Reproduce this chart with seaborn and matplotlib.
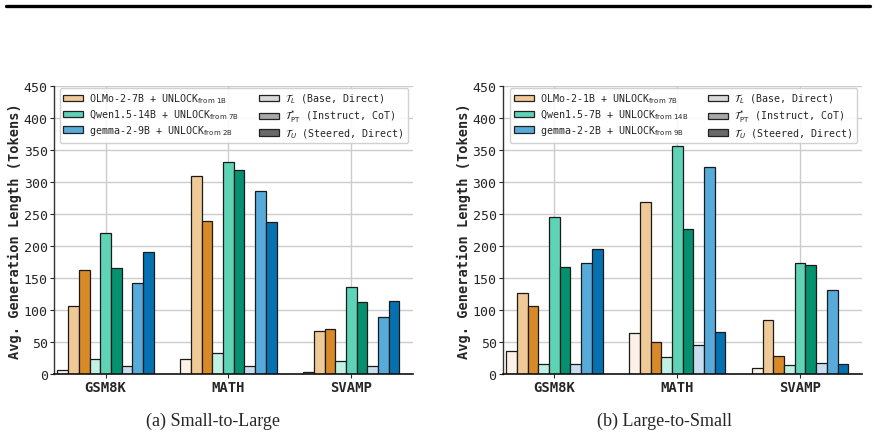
import matplotlib
matplotlib.use("Agg")
import matplotlib.pyplot as plt
from matplotlib.patches import Patch
from matplotlib.lines import Line2D
import seaborn as sns
import pandas as pd

datasets = ["GSM8K", "MATH", "SVAMP"]
settings = ["L", "PT", "U"]

# rows: dataset, cols: T_L, T_PT, T_U
s2l_olmo = [[6, 107, 162], [23, 309, 239], [3, 67, 71]]
s2l_qwen = [[24, 220, 166], [33, 332, 319], [20, 136, 112]]
s2l_gemma = [[12, 142, 191], [12, 286, 238], [12, 89, 114]]

l2s_olmo = [[36, 127, 106], [64, 269, 50], [9, 85, 28]]
l2s_qwen = [[16, 246, 167], [26, 357, 227], [14, 173, 171]]
l2s_gemma = [[16, 173, 195], [45, 323, 66], [17, 131, 15]]

s2l_labels = [r"OLMo-2-7B + UNLOCK$_{\mathrm{from\ 1B}}$",
              r"Qwen1.5-14B + UNLOCK$_{\mathrm{from\ 7B}}$",
              r"gemma-2-9B + UNLOCK$_{\mathrm{from\ 2B}}$"]
l2s_labels = [r"OLMo-2-1B + UNLOCK$_{\mathrm{from\ 7B}}$",
              r"Qwen1.5-7B + UNLOCK$_{\mathrm{from\ 14B}}$",
              r"gemma-2-2B + UNLOCK$_{\mathrm{from\ 9B}}$"]
setting_labels = [r"$\mathcal{T}_L$ (Base, Direct)",
                  r"$\mathcal{T}^{*}_{\mathrm{PT}}$ (Instruct, CoT)",
                  r"$\mathcal{T}_U$ (Steered, Direct)"]
captions = ["(a) Small-to-Large", "(b) Large-to-Small"]

colors = {
    "olmo": ["#fcf1e6", "#efca97", "#d98a28"],
    "qwen": ["#c1f0e5", "#5fd3b5", "#05906f"],
    "gemma": ["#c6def0", "#57abdb", "#0571b0"],
}
model_colors = [colors["olmo"][1], colors["qwen"][1], colors["gemma"][1]]
gray_colors = ["#d9d9d9", "#a8a8a8", "#6a6a6a"]


def make_df(olmo, qwen, gemma):
    rows = []
    for name, vals in [("olmo", olmo), ("qwen", qwen), ("gemma", gemma)]:
        for d, ds in enumerate(datasets):
            for s, st in enumerate(settings):
                rows.append({"dataset": ds, "series": f"{name}_{st}", "value": vals[d][s]})
    return pd.DataFrame(rows)


sns.set_style("whitegrid")
plt.rcParams["font.family"] = ["DejaVu Sans Mono", "DejaVu Sans"]
plt.rcParams["mathtext.fontset"] = "dejavusans"

fig = plt.figure(figsize=(8.76, 4.39), dpi=100)
ax1 = fig.add_axes([0.0616, 0.1458, 0.4095, 0.656])
ax2 = fig.add_axes([0.574, 0.1458, 0.4095, 0.656])

order = [f"{m}_{s}" for m in ["olmo", "qwen", "gemma"] for s in settings]
palette = dict(zip(order, colors["olmo"] + colors["qwen"] + colors["gemma"]))

panels = [(ax1, make_df(s2l_olmo, s2l_qwen, s2l_gemma), s2l_labels),
          (ax2, make_df(l2s_olmo, l2s_qwen, l2s_gemma), l2s_labels)]

for ax, df, labels in panels:
    sns.barplot(data=df, x="dataset", y="value", hue="series", hue_order=order,
                palette=palette, width=0.784, gap=0, edgecolor="#1a1a1a",
                linewidth=0.9, saturation=1, ax=ax, legend=False)
    ax.set_xlim(-0.42, 2.5)
    ax.set_ylim(0, 450)
    ax.set_yticks(range(0, 451, 50))
    ax.set_xlabel("")
    ax.set_ylabel("Avg. Generation Length (Tokens)", fontweight="bold", fontsize=9.8,
                  labelpad=1)
    ax.tick_params(axis="y", labelsize=9.5, left=True, length=3, pad=1.5)
    ax.tick_params(axis="x", labelsize=10, bottom=True, length=3, pad=1.5)
    for t in ax.get_xticklabels():
        t.set_fontweight("bold")
    ax.grid(True, color="#cccccc", linewidth=1.0)
    ax.set_axisbelow(True)
    for sp in ["top", "right"]:
        ax.spines[sp].set_visible(False)
    ax.spines["left"].set_color("#333333")
    ax.spines["bottom"].set_color("#111111")
    ax.spines["left"].set_linewidth(1.0)
    ax.spines["bottom"].set_linewidth(1.2)

    handles = [Patch(facecolor=c, edgecolor="#222222", linewidth=0.9) for c in model_colors]
    handles += [Patch(facecolor=c, edgecolor="#222222", linewidth=0.9) for c in gray_colors]
    leg = ax.legend(handles, labels + setting_labels, ncol=2, loc="upper right",
                    bbox_to_anchor=(1.0, 1.01), fontsize=7.2, handlelength=2.0,
                    handleheight=0.6, columnspacing=2.0, labelspacing=0.2,
                    borderpad=0.35, handletextpad=0.6, frameon=True,
                    framealpha=0.9, edgecolor="#cccccc")
    leg.set_zorder(5)

fig.text(0.243, 0.041, captions[0], ha="center", va="center",
         family="Liberation Serif", fontsize=13)
fig.text(0.759, 0.041, captions[1], ha="center", va="center",
         family="Liberation Serif", fontsize=13)
fig.add_artist(Line2D([0.007, 0.993], [0.984, 0.984], color="black", linewidth=2.4,
                      transform=fig.transFigure))

fig.savefig("out.png", dpi=100)
